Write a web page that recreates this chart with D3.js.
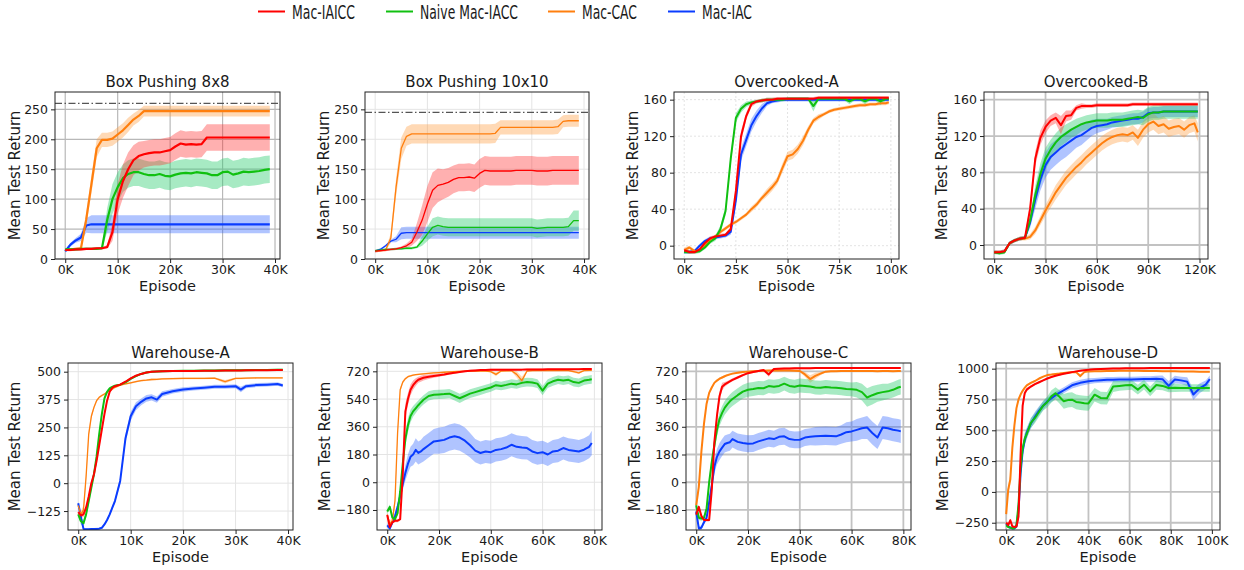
<!DOCTYPE html>
<html><head><meta charset="utf-8">
<script src="https://cdn.jsdelivr.net/npm/d3@7/dist/d3.min.js"></script>
<style>body{margin:0;background:#fff;} text{font-family:"DejaVu Sans",sans-serif;fill:#1a1a1a;}</style>
</head><body><svg id="c" width="1244" height="570"></svg>
<script>
// ---------- legend ----------
const seriesNames = ["Mac-IAICC","Naive Mac-IACC","Mac-CAC","Mac-IAC"];
const seriesKeys = ["red","green","orange","blue"];

// ---------- Box Pushing 8x8 ----------
const bp8_x = [0,1,2,3,4,5,6,7,8,9,10,11,12,13,14,15,16,17,18,19,20,21,22,23,24,25,26,27,28,29,30,31,32,33,34,35,36,37,38,39];
const bp8_red = [15,15,16,16,17,17,18,18,20,45,100,130,150,165,172,175,177,178,178,180,182,188,193,191,192,191,192,203,203,203,203,203,203,203,203,203,203,203,203,203];
const bp8_red_sd = [2,2,2,2,2,2,2,2,3,15,25,28,28,25,24,22,22,22,22,22,22,22,22,22,22,22,22,22,22,22,22,22,22,22,22,22,22,22,22,22];
const bp8_green = [16,16,16,17,17,17,17,18,65,100,120,135,142,145,145,142,140,140,142,139,138,141,143,144,143,145,144,143,140,140,145,146,141,143,146,145,146,147,149,150];
const bp8_green_sd = [2,2,2,2,2,2,2,2,20,25,25,23,23,23,23,23,23,23,23,23,23,23,23,23,23,23,23,23,23,23,23,23,23,23,23,23,23,23,23,23];
const bp8_orange = [15,16,17,18,66,125,185,199,199,201,208,215,224,233,239,247,247,247,247,247,247,247,247,247,247,247,247,247,247,247,247,247,247,247,247,247,247,247,247,247];
const bp8_orange_sd = [2,2,2,3,10,15,15,12,12,12,12,12,12,10,10,9,9,9,9,9,9,9,9,9,9,9,9,9,9,9,9,9,9,9,9,9,9,9,9,9];
const bp8_blue = [13,24,31,36,56,58,58,58,58,58,58,58,58,58,58,58,58,58,58,58,58,58,58,58,58,58,58,58,58,58,58,58,58,58,58,58,58,58,58,58];
const bp8_blue_sd = [2,3,4,6,12,15,15,15,15,15,15,15,15,15,15,15,15,15,15,15,15,15,15,15,15,15,15,15,15,15,15,15,15,15,15,15,15,15,15,15];

// ---------- Box Pushing 10x10 ----------
const bp10_x = [0,1,2,3,4,5,6,7,8,9,10,11,12,13,14,15,16,17,18,19,20,21,22,23,24,25,26,27,28,29,30,31,32,33,34,35,36,37,38,39];
const bp10_red = [13,14,15,16,17,19,22,28,45,65,92,115,123,125,128,133,136,136,137,135,143,148,147,147,147,147,147,148,148,148,148,147,147,147,148,148,148,148,148,148];
const bp10_red_sd = [2,2,2,2,2,2,4,6,15,25,30,30,28,25,24,23,23,23,23,23,24,24,24,24,24,24,24,24,24,24,24,24,24,24,24,24,24,24,24,24];
const bp10_green = [14,15,16,16,17,17,18,18,20,30,42,53,56,54,53,53,53,53,53,53,53,53,53,53,53,53,53,53,53,53,53,51,52,53,53,53,53,54,64,64];
const bp10_green_sd = [2,2,2,2,2,2,2,2,2,8,12,15,15,15,15,15,15,15,15,15,15,15,15,15,15,15,15,15,15,15,15,15,15,15,15,15,15,15,17,17];
const bp10_orange = [13,14,15,35,120,185,205,209,209,209,209,209,209,209,209,209,209,209,209,209,209,209,209,210,220,220,220,220,220,220,220,220,220,220,220,221,230,231,231,231];
const bp10_orange_sd = [2,2,2,8,15,18,16,16,16,16,16,16,16,16,16,16,16,16,16,16,16,16,16,16,12,12,12,12,12,12,12,12,12,12,12,12,10,10,10,10];
const bp10_blue = [13,16,22,30,33,43,44,44,44,44,44,44,44,44,44,44,44,44,44,44,44,44,44,44,44,44,44,44,44,44,44,44,44,44,44,44,44,44,44,44];
const bp10_blue_sd = [2,2,2,2,5,10,10,10,10,10,10,10,10,10,10,10,10,10,10,10,10,10,10,10,10,10,10,10,10,10,10,10,10,10,10,10,10,10,10,10];

// ---------- Overcooked-A ----------
const oca_x = [0,2.5,5,7.5,10,12.5,15,17.5,20,22.5,25,27.5,30,32.5,35,37.5,40,42.5,45,47.5,50,52.5,55,57.5,60,62.5,65,67.5,70,72.5,75,77.5,80,82.5,85,87.5,90,92.5,95,97.5,99];
const oca_red = [-5,-7,-7,-4,3,8,10,11,12,18,60,120,142,155,158,159,160,160,161,161,161,161,161,161,161,161,162,162,162,162,162,162,162,162,162,162,162,162,162,162,162];
const oca_red_sd = [2,2,2,2,2,2,2,2,2,3,6,6,4,3,2,2,2,2,2,2,2,2,2,2,2,2,2,2,2,2,2,2,2,2,2,2,2,2,2,2,2];
const oca_green = [-7,-7,-7,-6,-2,4,8,18,38,95,140,150,155,157,158,159,160,160,160,160,161,161,161,161,161,153,161,161,161,161,161,161,158,161,161,158,161,161,158,161,161];
const oca_green_sd = [2,2,2,2,2,2,3,4,5,6,5,4,3,2,2,2,2,2,2,2,2,2,2,2,2,6,2,2,2,2,2,2,3,2,2,3,2,2,4,2,2];
const oca_orange = [-5,-2,-6,-5,0,6,10,15,19,23,26,30,34,40,45,52,58,64,71,85,98,100,106,115,127,137,141,144,147,149,150,151,152,153,154,154,155,155,156,156,157];
const oca_orange_sd = [3,2,2,2,2,2,2,2,2,2,2,2,2,3,3,3,4,4,4,5,5,5,5,5,4,3,3,2,2,2,2,2,2,2,2,2,2,2,2,2,2];
const oca_blue = [-7,-7,-6,0,5,8,9,10,11,15,50,100,116,132,142,150,156,158,159,160,160,160,160,160,160,160,160,160,160,160,160,160,160,160,160,160,160,160,160,160,160];
const oca_blue_sd = [2,2,2,2,2,2,2,2,2,3,5,7,7,7,6,5,3,2,2,2,2,2,2,2,2,2,2,2,2,2,2,2,2,2,2,2,2,2,2,2,2];

// ---------- Overcooked-B ----------
const ocb_x = [0,3,6,9,12,15,18,21,24,27,30,33,36,39,42,45,48,51,54,57,60,63,66,69,72,75,78,81,84,87,90,93,96,99,102,105,108,111,114,117,119];
const ocb_red = [-8,-8,-7,2,5,7,8,40,95,118,130,137,140,132,142,143,151,153,153,153,154,154,154,154,154,154,154,155,155,155,155,155,155,155,155,155,155,155,155,155,155];
const ocb_red_sd = [2,2,2,2,2,2,2,6,8,8,7,6,6,10,6,5,3,3,2,2,2,2,2,2,2,2,2,2,2,2,2,2,2,2,2,2,2,2,2,2,2];
const ocb_green = [-8,-9,-8,2,5,7,8,27,55,78,95,105,113,119,123,127,130,133,135,136,137,137,137,138,138,138,139,140,141,140,144,146,146,147,147,147,147,147,147,147,147];
const ocb_green_sd = [2,2,2,2,2,2,2,6,10,12,12,11,10,10,10,9,9,8,8,8,8,8,8,8,8,8,8,8,8,8,8,8,8,8,8,8,8,8,8,8,8];
const ocb_orange = [-8,-8,-7,2,5,7,7,9,16,27,38,48,58,66,74,80,86,91,97,102,107,112,116,119,121,122,121,124,118,127,133,136,131,133,128,130,131,127,132,134,124];
const ocb_orange_sd = [2,2,2,2,2,2,2,3,4,5,6,7,8,8,8,8,8,8,8,8,8,8,8,8,8,8,8,8,9,9,9,9,9,9,9,9,9,9,9,9,10];
const ocb_blue = [-8,-8,-7,2,5,7,8,25,50,72,88,97,102,107,111,115,119,121,125,129,131,132,133,135,136,137,138,139,139,141,145,146,146,147,147,147,147,147,147,147,147];
const ocb_blue_sd = [2,2,2,2,2,2,2,6,10,12,14,14,14,14,14,13,12,11,10,9,8,7,6,6,6,6,6,6,6,6,6,6,6,6,6,6,6,6,6,6,6];

// ---------- Warehouse-A ----------
const wha_x = [0,0.5,1,1.5,2,2.5,3,3.5,4,4.5,5,5.5,6,6.5,7,8,9,10,11,12,13,14,15,16,18,20,22,24,26,28,30,31,32,34,36,38,39];
const wha_red = [-130,-145,-140,-110,-60,0,40,100,170,240,310,370,410,428,435,442,455,470,482,490,496,500,501,502,503,503,503,504,504,505,505,505,506,507,507,508,508];
const wha_red_sd = [10,12,12,12,12,12,12,12,12,12,10,8,6,5,5,4,4,4,4,4,4,4,4,4,4,4,4,4,4,4,4,4,4,4,4,4,4];
const wha_green = [-140,-170,-180,-140,-80,-20,40,120,220,310,380,410,425,432,437,442,452,468,480,490,496,500,501,502,503,504,504,505,505,506,507,507,507,508,508,509,509];
const wha_green_sd = [10,15,15,15,15,15,15,15,15,12,10,8,6,5,5,4,4,4,4,4,4,4,4,4,4,4,4,4,4,4,4,4,4,4,4,4,4];
const wha_orange = [-100,-140,-120,30,220,300,340,370,385,393,400,408,415,422,430,440,445,450,455,460,462,465,466,468,469,470,470,470,471,455,470,470,471,472,472,472,472];
const wha_orange_sd = [5,15,20,20,15,10,8,6,5,5,5,5,5,5,5,4,4,4,4,4,4,4,4,4,4,4,4,4,4,8,4,4,4,4,4,4,4];
const wha_blue = [-90,-150,-205,-207,-207,-206,-206,-205,-204,-200,-185,-165,-140,-110,-80,10,200,300,345,365,380,385,375,400,412,420,425,428,432,432,435,420,435,440,442,445,438];
const wha_blue_sd = [8,8,5,5,5,5,5,5,5,5,5,5,6,8,10,15,20,20,18,15,15,14,14,12,10,10,9,9,9,9,9,12,9,9,8,8,8];

// ---------- Warehouse-B ----------
const whb_x = [0,1,2,3,4,5,6,7,8,9,10,11,12,13,14,16,18,20,22,24,26,28,30,32,34,36,38,40,42,44,46,48,50,52,54,56,58,60,62,64,66,68,70,72,74,76,78,79];
const whb_red = [-213,-290,-260,-250,-250,-240,50,460,540,600,630,650,665,672,678,685,690,695,700,706,710,716,720,724,726,728,729,730,730,730,731,731,731,731,732,732,732,732,733,733,733,733,733,734,734,735,735,735];
const whb_red_sd = [10,15,10,10,10,10,40,50,40,35,30,25,20,20,18,15,12,10,8,8,6,6,6,6,6,6,6,6,6,6,6,6,6,6,6,6,6,6,6,6,6,6,6,6,6,6,6,6];
const whb_green = [-190,-160,-230,-240,-200,-60,120,280,370,430,460,480,500,518,535,560,568,570,572,575,560,545,560,575,585,595,605,615,630,625,632,640,635,645,650,648,640,595,640,655,665,660,665,650,645,660,665,668];
const whb_green_sd = [15,15,15,15,15,25,40,45,45,40,35,32,30,30,30,30,30,30,30,30,30,30,28,28,28,28,28,28,28,28,28,28,28,28,28,28,28,30,28,28,28,28,28,28,28,28,28,28];
const whb_orange = [-210,-270,-250,-120,320,600,650,672,685,690,695,698,700,702,704,707,710,712,714,716,718,720,720,721,722,722,722,718,700,722,723,724,700,660,722,724,725,725,725,726,725,726,725,718,710,725,726,726];
const whb_orange_sd = [15,20,20,30,30,15,10,8,6,6,6,5,5,5,5,5,5,5,5,5,5,5,5,5,5,5,5,5,12,5,5,5,20,25,5,5,5,5,5,5,5,5,5,8,8,5,5,5];
const whb_blue = [-280,-300,-260,-220,-160,-90,-10,60,120,165,180,210,190,200,215,240,265,270,275,290,298,290,270,240,205,190,200,195,210,215,225,243,230,225,222,200,189,195,180,200,205,222,210,205,200,211,230,255];
const whb_blue_sd = [15,15,15,15,15,25,40,50,60,65,70,75,75,75,80,80,80,85,85,85,85,85,85,80,75,75,75,75,75,75,75,75,75,75,75,75,75,75,75,75,75,75,75,75,75,75,75,80];

// ---------- Warehouse-C ----------
const whc_x = [0,1,2,3,4,5,6,7,8,9,10,11,12,13,14,16,18,20,22,24,26,28,30,32,34,36,38,40,42,44,46,48,50,52,54,56,58,60,62,64,66,68,70,72,74,76,78,79];
const whc_red = [-210,-160,-220,-245,-245,-245,-50,260,430,560,620,635,645,655,665,680,695,708,715,722,728,700,735,737,738,739,740,740,740,740,741,741,741,741,742,742,742,742,742,742,742,742,742,742,742,742,742,742];
const whc_red_sd = [10,12,10,10,10,10,30,40,35,30,25,15,12,10,10,8,8,6,6,6,6,15,6,6,6,6,6,6,6,6,6,6,6,6,6,6,6,6,6,6,6,6,6,6,6,6,6,6];
const whc_green = [-150,-230,-235,-230,-170,0,130,240,340,410,450,483,505,525,540,565,588,600,605,612,610,624,620,625,640,625,620,628,625,622,615,613,618,615,613,610,605,603,600,585,550,565,578,585,590,600,615,620];
const whc_green_sd = [15,15,15,15,20,30,40,45,45,45,45,45,45,45,45,45,45,45,45,45,45,45,45,45,45,45,45,45,45,45,45,45,45,45,45,45,45,45,50,55,60,60,55,55,50,50,50,50];
const whc_orange = [-150,-30,200,380,510,580,615,645,660,672,680,688,695,700,705,710,715,718,720,722,724,725,725,725,726,725,724,722,700,670,690,705,718,720,721,722,722,722,722,722,722,722,721,722,722,721,722,722];
const whc_orange_sd = [25,25,20,15,12,10,8,8,8,8,8,6,6,6,6,6,6,6,6,6,6,6,6,6,6,6,6,6,15,25,20,10,6,6,6,6,6,6,6,6,6,6,6,6,6,6,6,6];
const whc_blue = [-190,-300,-295,-260,-230,-130,-20,100,165,200,225,248,255,260,280,262,255,250,252,265,275,285,280,295,298,280,275,276,290,295,298,300,302,300,298,310,325,330,340,350,355,320,290,355,350,341,335,330];
const whc_blue_sd = [15,15,15,15,15,25,40,45,50,55,55,55,55,55,55,55,55,55,55,55,55,55,55,55,55,55,55,55,55,55,60,60,60,60,60,60,65,65,70,70,75,75,75,75,75,75,75,75];

// ---------- Warehouse-D ----------
const whd_x = [0,1,2,3,4,5,6,7,8,9,10,12,14,16,18,20,22,24,26,28,30,32,34,36,38,40,43,46,49,52,55,58,61,64,67,70,73,76,79,82,85,88,91,94,97,99];
const whd_red = [-250,-270,-230,-280,-285,-280,-200,300,700,800,830,855,875,890,905,920,932,942,950,958,965,972,978,983,988,992,995,998,1000,1001,1002,1003,1003,1004,1004,1005,1005,1005,1005,1005,1005,1005,1005,1005,1005,1005];
const whd_red_sd = [15,15,15,10,10,10,30,60,40,20,15,10,8,8,6,6,6,6,6,6,6,6,6,6,6,6,6,6,6,6,6,6,6,6,6,6,6,6,6,6,6,6,6,6,6,6];
const whd_green = [-270,-285,-290,-295,-295,-270,-100,200,350,430,470,560,600,650,700,730,775,800,770,735,745,748,730,725,720,718,789,762,760,855,860,865,868,830,870,816,868,860,843,845,843,843,843,843,843,843];
const whd_green_sd = [10,10,10,10,10,15,30,45,45,45,40,40,40,40,40,45,50,50,55,60,60,60,60,60,60,60,55,50,50,45,40,40,40,40,40,40,40,35,35,35,30,30,30,30,30,30];
const whd_orange = [-180,20,100,360,540,680,750,790,820,845,865,885,900,920,935,948,952,957,960,965,968,970,972,940,972,978,979,980,981,982,983,983,983,983,982,982,981,980,980,979,978,978,977,976,975,975];
const whd_orange_sd = [20,40,40,30,25,20,15,12,10,8,8,8,6,6,6,6,6,6,6,6,6,6,6,15,6,6,6,6,6,6,6,6,6,6,6,6,6,6,6,6,6,6,6,6,6,6];
const whd_blue = [-260,-280,-290,-295,-295,-280,-150,150,330,420,480,555,610,660,700,735,760,785,805,825,845,865,875,885,892,898,903,907,910,911,912,912,913,914,916,916,918,915,860,912,905,895,790,840,870,915];
const whd_blue_sd = [10,10,10,10,10,15,30,45,45,45,40,40,40,35,35,30,30,28,25,25,25,25,25,25,25,25,22,22,22,22,22,22,22,22,22,22,25,30,40,30,30,35,45,40,35,30];

// ---------- axis ticks ----------
const bp_xticks = [0,10,20,30,40];
const bp_yticks = [0,50,100,150,200,250];
const oca_xticks = [0,25,50,75,100];
const oc_yticks = [0,40,80,120,160];
const ocb_xticks = [0,30,60,90,120];
const wha_xticks = [0,10,20,30,40];
const wha_yticks = [-125,0,125,250,375,500];
const whbc_xticks = [0,20,40,60,80];
const whbc_yticks = [-180,0,180,360,540,720];
const whd_xticks = [0,20,40,60,80,100];
const whd_yticks = [-250,0,250,500,750,1000];

// ---------- styling ----------
const colors = {red:"#ff0000", green:"#10c010", orange:"#ff7f0e", blue:"#0a3cff"};
const bandFill = {red:"#ff3030", green:"#2ecc71", orange:"#ff9a3c", blue:"#2f63ff"};
const bandOp = {red:0.38, green:0.42, orange:0.38, blue:0.38};
const gridStyles = {
  mid:{c:"#b8b8b8", w:1.2, d:null},
  faint:{c:"#e4e4e4", w:1, d:null},
  dot:{c:"#e0e0e0", w:0.9, d:"2,2"},
  thick:{c:"#c2c2c2", w:1.8, d:null}
};

const panels = [
 {title:"Box Pushing 8x8", L:55,T:92,R:280,B:259, xd:[-1.95,40.95], yd:[0,279], xt:bp_xticks, yt:bp_yticks, x:bp8_x,
  s:{red:[bp8_red,bp8_red_sd],green:[bp8_green,bp8_green_sd],orange:[bp8_orange,bp8_orange_sd],blue:[bp8_blue,bp8_blue_sd]}, ref:260, grid:"mid", lw:2.2, ylx:19.5},
 {title:"Box Pushing 10x10", L:365,T:92,R:589,B:259, xd:[-1.95,40.95], yd:[0,279], xt:bp_xticks, yt:bp_yticks, x:bp10_x,
  s:{red:[bp10_red,bp10_red_sd],green:[bp10_green,bp10_green_sd],orange:[bp10_orange,bp10_orange_sd],blue:[bp10_blue,bp10_blue_sd]}, ref:245, grid:"faint", lw:1.3, ylx:329},
 {title:"Overcooked-A", L:674,T:92,R:899,B:259, xd:[-4.95,103.95], yd:[-14.6,168.4], xt:oca_xticks, yt:oc_yticks, x:oca_x,
  s:{red:[oca_red,oca_red_sd],green:[oca_green,oca_green_sd],orange:[oca_orange,oca_orange_sd],blue:[oca_blue,oca_blue_sd]}, grid:"dot", lw:2, ylx:638},
 {title:"Overcooked-B", L:984,T:92,R:1208,B:259, xd:[-5.95,124.95], yd:[-15.4,168.5], xt:ocb_xticks, yt:oc_yticks, x:ocb_x,
  s:{red:[ocb_red,ocb_red_sd],green:[ocb_green,ocb_green_sd],orange:[ocb_orange,ocb_orange_sd],blue:[ocb_blue,ocb_blue_sd]}, grid:"thick", lw:2, ylx:947},
 {title:"Warehouse-A", L:68,T:363,R:293,B:530, xd:[-1.95,40.95], yd:[-210,539], xt:wha_xticks, yt:wha_yticks, x:wha_x,
  s:{red:[wha_red,wha_red_sd],green:[wha_green,wha_green_sd],orange:[wha_orange,wha_orange_sd],blue:[wha_blue,wha_blue_sd]}, grid:"faint", lw:2, olw:1.3, ylx:20},
 {title:"Warehouse-B", L:377,T:363,R:602,B:530, xd:[-3.95,82.95], yd:[-310,774], xt:whbc_xticks, yt:whbc_yticks, x:whb_x,
  s:{red:[whb_red,whb_red_sd],green:[whb_green,whb_green_sd],orange:[whb_orange,whb_orange_sd],blue:[whb_blue,whb_blue_sd]}, grid:"faint", lw:2, olw:1.3, ylx:330},
 {title:"Warehouse-C", L:686,T:363,R:911,B:530, xd:[-3.95,82.95], yd:[-310,774], xt:whbc_xticks, yt:whbc_yticks, x:whc_x,
  s:{red:[whc_red,whc_red_sd],green:[whc_green,whc_green_sd],orange:[whc_orange,whc_orange_sd],blue:[whc_blue,whc_blue_sd]}, grid:"thick", lw:2, ylx:640},
 {title:"Warehouse-D", L:996,T:363,R:1220,B:530, xd:[-4.95,103.95], yd:[-309,1046], xt:whd_xticks, yt:whd_yticks, x:whd_x,
  s:{red:[whd_red,whd_red_sd],green:[whd_green,whd_green_sd],orange:[whd_orange,whd_orange_sd],blue:[whd_blue,whd_blue_sd]}, grid:"thick", lw:2, ylx:948}
];

const svg = d3.select("#c");
const yfmt = d3.format("d");
const drawOrder = ["blue","orange","green","red"];

panels.forEach((p, i) => {
  const x = d3.scaleLinear().domain(p.xd).range([p.L, p.R]);
  const y = d3.scaleLinear().domain(p.yd).range([p.B, p.T]);
  const g = svg.append("g");
  const clipId = "clip" + i;
  svg.append("clipPath").attr("id", clipId).append("rect")
    .attr("x", p.L).attr("y", p.T).attr("width", p.R - p.L).attr("height", p.B - p.T);

  // grid
  const gs = gridStyles[p.grid];
  const gg = g.append("g");
  gg.selectAll("line.vx").data(p.xt).join("line")
    .attr("x1", d => x(d)).attr("x2", d => x(d)).attr("y1", p.T).attr("y2", p.B)
    .attr("stroke", gs.c).attr("stroke-width", gs.w).attr("stroke-dasharray", gs.d);
  gg.selectAll("line.hy").data(p.yt).join("line")
    .attr("class","hy")
    .attr("x1", p.L).attr("x2", p.R).attr("y1", d => y(d)).attr("y2", d => y(d))
    .attr("stroke", gs.c).attr("stroke-width", gs.w).attr("stroke-dasharray", gs.d);

  const plot = g.append("g").attr("clip-path", `url(#${clipId})`);

  // reference line
  if (p.ref !== undefined) {
    plot.append("line").attr("x1", p.L).attr("x2", p.R).attr("y1", y(p.ref)).attr("y2", y(p.ref))
      .attr("stroke", "#555").attr("stroke-width", 1.3).attr("stroke-dasharray", "7,2.5,1.5,2.5");
  }

  // bands
  drawOrder.forEach(k => {
    const [m, sd] = p.s[k];
    const pts = p.x.map((xv, j) => [xv, m[j], sd[j]]);
    const area = d3.area().x(d => x(d[0])).y0(d => y(d[1] - d[2])).y1(d => y(d[1] + d[2]));
    plot.append("path").attr("d", area(pts)).attr("fill", bandFill[k]).attr("fill-opacity", bandOp[k]).attr("stroke", "none");
  });
  // lines
  drawOrder.forEach(k => {
    const [m] = p.s[k];
    const pts = p.x.map((xv, j) => [xv, m[j]]);
    const line = d3.line().x(d => x(d[0])).y(d => y(d[1]));
    const w = (k === "orange" && p.olw) ? p.olw : p.lw;
    plot.append("path").attr("d", line(pts)).attr("fill", "none").attr("stroke", colors[k])
      .attr("stroke-width", w).attr("stroke-linejoin", "round");
  });

  // frame
  g.append("rect").attr("x", p.L).attr("y", p.T).attr("width", p.R - p.L).attr("height", p.B - p.T)
    .attr("fill", "none").attr("stroke", "#222").attr("stroke-width", 1);

  // axes
  const xa = d3.axisBottom(x).tickValues(p.xt).tickFormat(d => d + "K").tickSize(4).tickPadding(2.5);
  const ya = d3.axisLeft(y).tickValues(p.yt).tickFormat(yfmt).tickSize(4).tickPadding(3);
  const gx = g.append("g").attr("transform", `translate(0,${p.B})`).call(xa);
  const gy = g.append("g").attr("transform", `translate(${p.L},0)`).call(ya);
  [gx, gy].forEach(a => {
    a.select(".domain").remove();
    a.selectAll(".tick line").attr("stroke", "#222");
    a.selectAll(".tick text").attr("font-size", 12.5).attr("font-family", "DejaVu Sans").attr("fill", "#1a1a1a");
  });

  // title & labels
  g.append("text").attr("x", (p.L + p.R) / 2).attr("y", p.T - 5).attr("text-anchor", "middle")
    .attr("font-size", 15).text(p.title);
  g.append("text").attr("x", (p.L + p.R) / 2).attr("y", p.B + 31.5).attr("text-anchor", "middle")
    .attr("font-size", 14.5).text("Episode");
  g.append("text").attr("transform", `translate(${p.ylx},${(p.T + p.B) / 2}) rotate(-90)`)
    .attr("text-anchor", "middle").attr("font-size", 15).text("Mean Test Return");
});

// legend
const legX = [258, 386, 548, 668];
const legTW = [63, 98, 55, 50];
const lg = svg.append("g");
seriesKeys.forEach((k, i) => {
  lg.append("line").attr("x1", legX[i]).attr("x2", legX[i] + 27).attr("y1", 11.5).attr("y2", 11.5)
    .attr("stroke", colors[k]).attr("stroke-width", 2);
  lg.append("text").attr("x", legX[i] + 34).attr("y", 18.5).attr("font-size", 19)
    .attr("textLength", legTW[i]).attr("lengthAdjust", "spacingAndGlyphs").text(seriesNames[i]);
});
</script>
</body></html>
